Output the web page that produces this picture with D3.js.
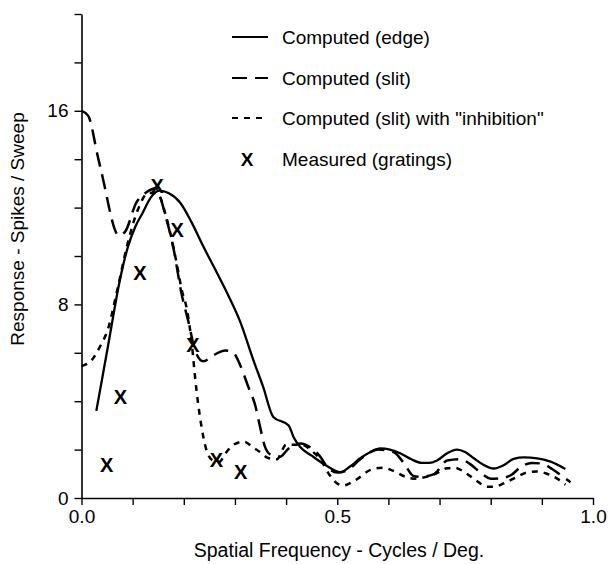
<!DOCTYPE html>
<html>
<head>
  <meta charset="utf-8">
  <script src="https://d3js.org/d3.v7.min.js"></script>
  <style>
    body { margin: 0; background: #fff; }
    svg text { font-family: "Liberation Sans", Arial, Helvetica, sans-serif; fill: #000; }
  </style>
</head>
<body>
<script>
// values: [spatial frequency, spikes / sweep]
var edgeCurve = [
  [0.029,3.6],[0.052,6.3],[0.075,9.0],[0.091,10.4],[0.105,11.2],[0.12,11.8],[0.135,12.4],
  [0.152,12.7],[0.17,12.6],[0.193,12.2],[0.215,11.4],[0.238,10.4],[0.26,9.5],[0.284,8.5],
  [0.31,7.3],[0.336,5.7],[0.355,4.6],[0.375,3.35],[0.405,3.0],[0.415,2.5],[0.428,2.1],
  [0.45,1.75],[0.477,1.36],[0.506,1.07],[0.525,1.3],[0.545,1.64],[0.565,1.9],[0.584,2.05],
  [0.603,2.0],[0.623,1.85],[0.645,1.6],[0.665,1.45],[0.68,1.45],[0.695,1.55],[0.715,1.85],
  [0.734,2.0],[0.75,1.9],[0.767,1.64],[0.785,1.38],[0.806,1.22],[0.825,1.35],[0.845,1.62],
  [0.865,1.68],[0.891,1.64],[0.917,1.5],[0.946,1.2]
];
var slitCurve = [
  [0,16.0],[0.013,15.8],[0.032,14.1],[0.045,12.9],[0.055,11.9],[0.065,11.1],[0.072,10.85],
  [0.085,11.0],[0.107,12.2],[0.125,12.6],[0.145,12.8],[0.165,11.6],[0.18,10.3],[0.195,8.5],
  [0.21,7.2],[0.222,6.1],[0.238,5.65],[0.258,5.9],[0.281,6.1],[0.297,6.0],[0.31,5.5],
  [0.326,4.6],[0.34,3.8],[0.349,2.95],[0.359,2.1],[0.369,1.8],[0.388,1.7],[0.405,2.05],
  [0.428,2.25],[0.447,2.1],[0.467,1.7],[0.48,1.3],[0.5,1.05],[0.52,1.15],[0.545,1.6],
  [0.58,2.0],[0.61,1.9],[0.63,1.45],[0.65,0.9],[0.665,0.88],[0.69,1.0],[0.715,1.55],
  [0.74,1.6],[0.76,1.4],[0.78,1.05],[0.8,0.8],[0.82,0.82],[0.84,0.95],[0.86,1.3],
  [0.88,1.45],[0.9,1.42],[0.92,1.2],[0.94,0.9],[0.956,0.65]
];
var inhibCurve = [
  [0,5.45],[0.02,5.7],[0.036,6.25],[0.052,7.0],[0.07,8.6],[0.09,10.5],[0.11,11.9],
  [0.13,12.6],[0.147,12.6],[0.167,11.5],[0.186,9.7],[0.196,8.6],[0.206,7.8],[0.216,6.3],
  [0.222,5.0],[0.228,3.9],[0.235,2.9],[0.244,2.0],[0.257,1.55],[0.27,1.5],[0.28,1.8],
  [0.297,2.2],[0.317,2.33],[0.335,2.1],[0.349,1.9],[0.365,1.65],[0.382,1.6],[0.4,2.2],
  [0.43,2.2],[0.45,1.95],[0.47,1.5],[0.485,0.95],[0.5,0.6],[0.512,0.52],[0.535,0.73],
  [0.565,1.16],[0.59,1.25],[0.61,1.12],[0.633,0.88],[0.65,0.8],[0.665,0.83],[0.69,0.98],
  [0.715,1.23],[0.73,1.25],[0.75,1.05],[0.77,0.75],[0.793,0.47],[0.806,0.47],[0.83,0.65],
  [0.852,0.88],[0.87,1.05],[0.89,1.1],[0.91,1.0],[0.93,0.8],[0.946,0.55]
];
var measuredF = [0.049, 0.076, 0.114, 0.148, 0.187, 0.218, 0.264, 0.311];
var measuredV = [1.36, 4.19, 9.29, 12.9, 11.07, 6.32, 1.57, 1.09];

var xTickValues = [0,0.1,0.2,0.3,0.4,0.5,0.6,0.7,0.8,0.9,1.0];
var xTickLabels = {"0": "0.0", "0.5": "0.5", "1": "1.0"};
var yTickValues = [0,2,4,6,8,10,12,14,16,18,20];
var yTickLabels = {"0": "0", "8": "8", "16": "16"};

var legendLabels = ["Computed (edge)", "Computed (slit)", "Computed (slit) with \"inhibition\"", "Measured (gratings)"];
var legendDash = [null, "15,8", "6,6", null];

var W = 613, H = 564;
var svg = d3.select("body").append("svg").attr("width", W).attr("height", H);

var x = d3.scaleLinear().domain([0, 1]).range([81.5, 593]);
var y = d3.scaleLinear().domain([0, 20]).range([498, 14]);

// axes
var yAxis = d3.axisLeft(y).tickValues(yTickValues).tickSize(7).tickSizeOuter(0).tickPadding(6)
  .tickFormat(function(d){ return yTickLabels[d] || ""; });
var xAxis = d3.axisBottom(x).tickValues(xTickValues).tickSize(7).tickSizeOuter(0).tickPadding(5)
  .tickFormat(function(d){ return xTickLabels[+d.toFixed(1)] || ""; });

var gy = svg.append("g").attr("transform", "translate(" + x(0) + ",0)").call(yAxis);
var gx = svg.append("g").attr("transform", "translate(0," + y(0) + ")").call(xAxis);
[gx, gy].forEach(function(g){
  g.select(".domain").attr("stroke", "#000").attr("stroke-width", 1.6);
  g.selectAll(".tick line").attr("stroke", "#000").attr("stroke-width", 1.4);
  g.selectAll(".tick text").style("font-size", "19px").attr("fill", "#000");
});

// axis titles
svg.append("text")
  .attr("x", 339).attr("y", 557)
  .attr("text-anchor", "middle")
  .style("font-size", "19.5px")
  .text("Spatial Frequency - Cycles / Deg.");
svg.append("text")
  .attr("transform", "translate(24,229) rotate(-90)")
  .attr("text-anchor", "middle")
  .style("font-size", "19px")
  .text("Response - Spikes / Sweep");

// curves
var line = d3.line()
  .x(function(d){ return x(d[0]); })
  .y(function(d){ return y(d[1]); })
  .curve(d3.curveMonotoneX);

svg.append("path").datum(edgeCurve)
  .attr("d", line).attr("fill", "none").attr("stroke", "#000").attr("stroke-width", 2.3);
svg.append("path").datum(slitCurve)
  .attr("d", line).attr("fill", "none").attr("stroke", "#000").attr("stroke-width", 2.5)
  .attr("stroke-dasharray", legendDash[1]);
svg.append("path").datum(inhibCurve)
  .attr("d", line).attr("fill", "none").attr("stroke", "#000").attr("stroke-width", 2.5)
  .attr("stroke-dasharray", legendDash[2]);

// measured points
svg.selectAll("text.meas")
  .data(measuredF)
  .enter().append("text")
  .attr("class", "meas")
  .attr("x", function(d){ return x(d); })
  .attr("y", function(d, i){ return y(measuredV[i]); })
  .attr("dy", "0.36em")
  .attr("text-anchor", "middle")
  .style("font-size", "20px")
  .style("font-weight", "bold")
  .text("X");

// legend
var legendY = [37, 78, 118, 159];
var lg = svg.selectAll("g.leg").data(legendLabels).enter().append("g")
  .attr("class", "leg")
  .attr("transform", function(d, i){ return "translate(0," + legendY[i] + ")"; });
lg.filter(function(d, i){ return i < 3; }).append("line")
  .attr("x1", 232).attr("x2", 268).attr("y1", 0).attr("y2", 0)
  .attr("stroke", "#000").attr("stroke-width", 2)
  .attr("stroke-dasharray", function(d, i){ return legendDash[i]; });
lg.filter(function(d, i){ return i === 3; }).append("text")
  .attr("x", 247).attr("dy", "0.36em").attr("text-anchor", "middle")
  .style("font-size", "19px").style("font-weight", "bold").text("X");
lg.append("text")
  .attr("x", 282).attr("dy", "0.36em")
  .style("font-size", "19px")
  .text(function(d){ return d; });
</script>
</body>
</html>
